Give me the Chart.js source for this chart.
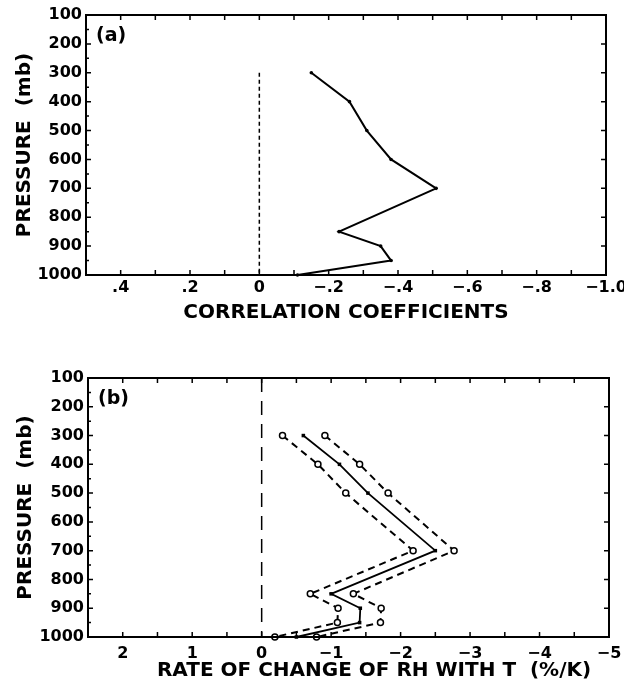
<!DOCTYPE html>
<html>
<head>
<meta charset="utf-8">
<script src="https://cdn.jsdelivr.net/npm/chart.js@4.4.1/dist/chart.umd.min.js"></script>
<style>
  html, body { margin: 0; padding: 0; background: #fff; overflow: hidden; width: 624px; height: 688px; position: relative; }
  canvas { position: absolute; left: 0; }
  #chartA { top: 0; }
  #chartB { top: 330px; }
</style>
</head>
<body>
<canvas id="chartA" width="660" height="330"></canvas>
<canvas id="chartB" width="660" height="358"></canvas>
<script>
// --- data ---
const pressureTicks = [100, 200, 300, 400, 500, 600, 700, 800, 900, 1000];

// (a) correlation coefficients
const pressureA = [300, 400, 500, 600, 700, 850, 900, 950, 1000];
const corrA = [-0.15, -0.26, -0.31, -0.38, -0.51, -0.23, -0.35, -0.38, -0.11];
const zeroSpanA = [300, 1000];
const xTicksA = [0.4, 0.2, 0, -0.2, -0.4, -0.6, -0.8, -1.0];

// (b) rate of change of RH with T (%/K)
const pressureB = [300, 400, 500, 700, 850, 900, 950, 1000];
const rateMean = [-0.60, -1.12, -1.53, -2.50, -1.00, -1.42, -1.41, -0.50];
const rateLow = [-0.30, -0.81, -1.21, -2.18, -0.70, -1.10, -1.09, -0.19];
const rateHigh = [-0.91, -1.41, -1.82, -2.77, -1.32, -1.72, -1.71, -0.79];
const zeroSpanB = [100, 1000];
const xTicksB = [2, 1, 0, -1, -2, -3, -4, -5];

Chart.defaults.font.family = "'DejaVu Sans', sans-serif";
Chart.defaults.font.weight = 'bold';
Chart.defaults.color = '#000';

const pts = (xs, ys) => xs.map((x, i) => ({ x, y: ys[i] }));
const minus = '\u2212';

function fmtA(v) {
  if (Math.abs(v) < 1e-9) return '0';
  const s = Math.abs(v).toFixed(1).replace(/^0/, '');
  return v < 0 ? minus + s : s;
}
function fmtB(v) {
  if (Math.abs(v) < 1e-9) return '0';
  return v < 0 ? minus + Math.abs(v) : String(v);
}

// frame, inward ticks, panel letter and (optionally) the x title
const framePlugin = {
  id: 'frame',
  afterDraw(chart, args, o) {
    const { ctx, chartArea: a, scales: { x, y } } = chart;
    ctx.save();
    ctx.strokeStyle = '#000';
    ctx.lineWidth = 1.5;
    ctx.beginPath();
    const nx = Math.round((x.max - x.min) / o.xStep);
    for (let i = 0; i <= nx; i++) {
      const px = x.getPixelForValue(x.min + i * o.xStep);
      ctx.moveTo(px, a.bottom); ctx.lineTo(px, a.bottom - 5);
      ctx.moveTo(px, a.top); ctx.lineTo(px, a.top + 5);
    }
    const ny = Math.round((y.max - y.min) / 50);
    for (let i = 0; i <= ny; i++) {
      const v = y.min + i * 50;
      const py = y.getPixelForValue(v);
      ctx.moveTo(a.left, py); ctx.lineTo(a.left + (v % 100 === 0 ? 5 : 3), py);
      if (v % 100 === 0) { ctx.moveTo(a.right, py); ctx.lineTo(a.right - 5, py); }
    }
    ctx.stroke();
    ctx.lineWidth = 2;
    ctx.strokeRect(a.left, a.top, a.right - a.left, a.bottom - a.top);
    ctx.fillStyle = '#000';
    ctx.font = "bold 19px 'DejaVu Sans'";
    ctx.textBaseline = 'middle';
    ctx.textAlign = 'left';
    ctx.fillText(o.label, a.left + 10, a.top + 21);
    if (o.xTitle) {
      ctx.font = "bold 20px 'DejaVu Sans'";
      ctx.textAlign = 'center';
      ctx.fillText(o.xTitle.text, o.xTitle.x, chart.height - o.xTitle.fromBottom);
    }
    ctx.restore();
  }
};

function yAxis(width, titlePad) {
  return {
    type: 'linear', min: 100, max: 1000, reverse: true,
    afterBuildTicks: s => { s.ticks = pressureTicks.map(v => ({ value: v })); },
    afterFit: s => { s.width = width; },
    grid: { display: false, drawTicks: false }, border: { display: false },
    ticks: { padding: 4, font: { size: 16, weight: 'bold' }, callback: v => String(v) },
    title: { display: true, text: 'PRESSURE  (mb)', font: { size: 20, weight: 'bold' }, padding: { top: titlePad, bottom: 0 } }
  };
}

new Chart(document.getElementById('chartA'), {
  type: 'scatter',
  data: {
    datasets: [
      { data: pts([0, 0], zeroSpanA), showLine: true, borderColor: '#000', borderWidth: 1.5, borderDash: [4, 3], pointRadius: 0, clip: false },
      { data: pts(corrA, pressureA), showLine: true, borderColor: '#000', borderWidth: 2, pointRadius: 1.8, pointBackgroundColor: '#000', pointBorderWidth: 0, clip: false }
    ]
  },
  options: {
    responsive: false, animation: false,
    layout: { padding: { left: 0, top: 15, right: 54, bottom: 0 } },
    plugins: { legend: { display: false }, tooltip: { enabled: false }, frame: { xStep: 0.1, label: '(a)' } },
    scales: {
      x: {
        type: 'linear', min: -1.0, max: 0.5, reverse: true,
        afterBuildTicks: s => { s.ticks = xTicksA.map(v => ({ value: v })); },
        afterFit: s => { s.height = 55; },
        grid: { display: false, drawTicks: false }, border: { display: false },
        ticks: { padding: 3, maxRotation: 0, font: { size: 16, weight: 'bold' }, callback: v => fmtA(v) },
        title: { display: true, text: 'CORRELATION COEFFICIENTS', font: { size: 20, weight: 'bold' }, padding: { top: 0, bottom: 5 } }
      },
      y: yAxis(86, 13)
    }
  },
  plugins: [framePlugin]
});

new Chart(document.getElementById('chartB'), {
  type: 'scatter',
  data: {
    datasets: [
      { data: pts([0, 0], zeroSpanB), showLine: true, borderColor: '#000', borderWidth: 1.5, borderDash: [14, 9], pointRadius: 0, clip: false },
      { data: pts(rateLow, pressureB), showLine: true, borderColor: '#000', borderWidth: 2, borderDash: [7, 5], pointRadius: 3, pointBackgroundColor: '#fff', pointBorderColor: '#000', pointBorderWidth: 1.5, clip: false },
      { data: pts(rateHigh, pressureB), showLine: true, borderColor: '#000', borderWidth: 2, borderDash: [7, 5], pointRadius: 3, pointBackgroundColor: '#fff', pointBorderColor: '#000', pointBorderWidth: 1.5, clip: false },
      { data: pts(rateMean, pressureB), showLine: true, borderColor: '#000', borderWidth: 1.8, pointStyle: 'rect', pointRadius: 2.5, pointBackgroundColor: '#000', pointBorderWidth: 0, clip: false }
    ]
  },
  options: {
    responsive: false, animation: false,
    layout: { padding: { left: 0, top: 48, right: 51, bottom: 0 } },
    plugins: {
      legend: { display: false }, tooltip: { enabled: false },
      frame: { xStep: 0.5, label: '(b)', xTitle: { text: 'RATE OF CHANGE OF RH WITH T  (%/K)', x: 374, fromBottom: 17 } }
    },
    scales: {
      x: {
        type: 'linear', min: -5, max: 2.5, reverse: true,
        afterBuildTicks: s => { s.ticks = xTicksB.map(v => ({ value: v })); },
        afterFit: s => { s.height = 51; },
        grid: { display: false, drawTicks: false }, border: { display: false },
        ticks: { padding: 7, maxRotation: 0, font: { size: 16, weight: 'bold' }, callback: v => fmtB(v) }
      },
      y: yAxis(88, 14)
    }
  },
  plugins: [framePlugin]
});
</script>
</body>
</html>
